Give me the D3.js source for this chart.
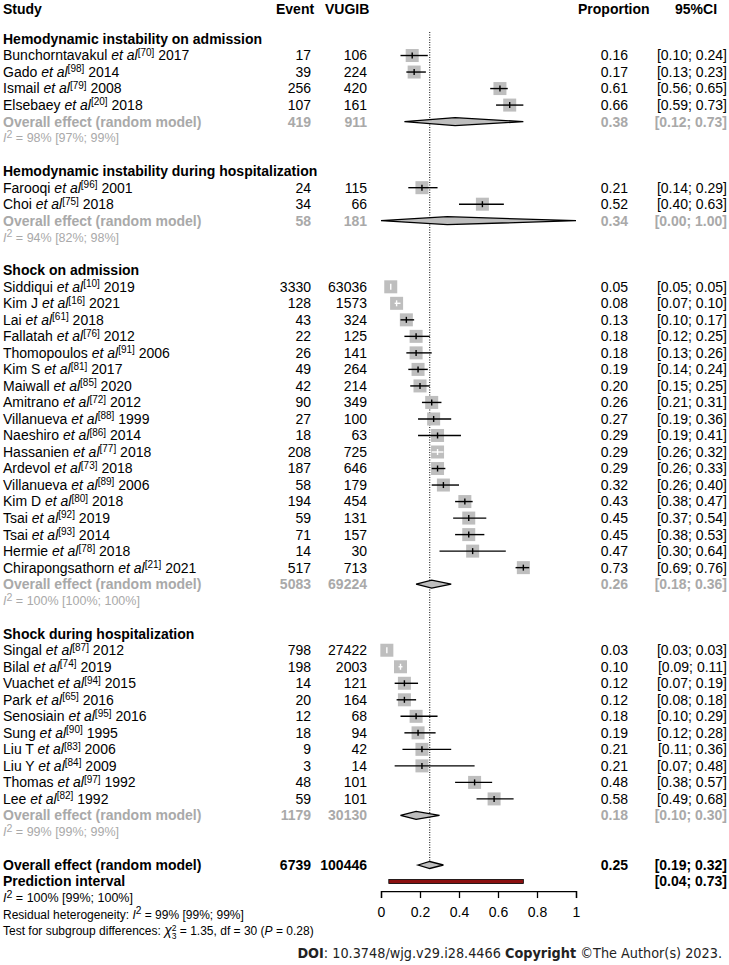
<!DOCTYPE html>
<html><head><meta charset="utf-8">
<script src="https://cdn.jsdelivr.net/npm/d3@7"></script>
<style>
body{margin:0;background:#fff}
svg{display:block}
text{font-family:"Liberation Sans",Arial,Helvetica,sans-serif;fill:#000}
</style>
</head><body>
<svg id="c" width="729" height="965"></svg>
<script>
// ---------------- DATA ----------------
const groupNames = [
  "Hemodynamic instability on admission",
  "Hemodynamic instability during hospitalization",
  "Shock on admission",
  "Shock during hospitalization"
];
const studyGroup = [0,0,0,0, 1,1, 2,2,2,2,2,2,2,2,2,2,2,2,2,2,2,2,2,2, 3,3,3,3,3,3,3,3,3,3];
const studyAuthors = [
  "Bunchorntavakul","Gado","Ismail","Elsebaey",
  "Farooqi","Choi",
  "Siddiqui","Kim J","Lai","Fallatah","Thomopoulos","Kim S","Maiwall","Amitrano","Villanueva","Naeshiro",
  "Hassanien","Ardevol","Villanueva","Kim D","Tsai","Tsai","Hermie","Chirapongsathorn",
  "Singal","Bilal","Vuachet","Park","Senosiain","Sung","Liu T","Liu Y","Thomas","Lee"
];
const studyRefs = [70,98,79,20, 96,75, 10,16,61,76,91,81,85,72,88,86,77,73,89,80,92,93,78,21, 87,74,94,65,95,90,83,84,97,82];
const studyYears = [2017,2014,2008,2018, 2001,2018,
  2019,2021,2018,2012,2006,2017,2020,2012,1999,2014,2018,2018,2006,2018,2019,2014,2018,2021,
  2012,2019,2015,2016,2016,1995,2006,2009,1992,1992];
const studyEvents = [17,39,256,107, 24,34,
  3330,128,43,22,26,49,42,90,27,18,208,187,58,194,59,71,14,517,
  798,198,14,20,12,18,9,3,48,59];
const studyTotals = [106,224,420,161, 115,66,
  63036,1573,324,125,141,264,214,349,100,63,725,646,179,454,131,157,30,713,
  27422,2003,121,164,68,94,42,14,101,101];
const studyProps = [0.16,0.17,0.61,0.66, 0.21,0.52,
  0.05,0.08,0.13,0.18,0.18,0.19,0.20,0.26,0.27,0.29,0.29,0.29,0.32,0.43,0.45,0.45,0.47,0.73,
  0.03,0.10,0.12,0.12,0.18,0.19,0.21,0.21,0.48,0.58];
const studyLower = [0.10,0.13,0.56,0.59, 0.14,0.40,
  0.05,0.07,0.10,0.12,0.13,0.14,0.15,0.21,0.19,0.19,0.26,0.26,0.26,0.38,0.37,0.38,0.30,0.69,
  0.03,0.09,0.07,0.08,0.10,0.12,0.11,0.07,0.38,0.49];
const studyUpper = [0.24,0.23,0.65,0.73, 0.29,0.63,
  0.05,0.10,0.17,0.25,0.26,0.24,0.25,0.31,0.36,0.41,0.32,0.33,0.40,0.47,0.54,0.53,0.64,0.76,
  0.03,0.11,0.19,0.18,0.29,0.28,0.36,0.48,0.57,0.68];
const groupEvents = [419, 58, 5083, 1179];
const groupTotals = [911, 181, 69224, 30130];
const groupProps = [0.38, 0.34, 0.26, 0.18];
const groupLower = [0.12, 0.00, 0.18, 0.10];
const groupUpper = [0.73, 1.00, 0.36, 0.30];
const groupI2 = ["98% [97%; 99%]", "94% [82%; 98%]", "100% [100%; 100%]", "99% [99%; 99%]"];
const overallEvents = 6739, overallTotal = 100446;
const overallProp = 0.25, overallLower = 0.19, overallUpper = 0.32;
const predictLower = 0.04, predictUpper = 0.73;
const overallI2 = "100% [99%; 100%]";
const residualI2 = "99% [99%; 99%]";
const testChi = "1.35", testDf = "30", testP = "0.28";
const axisTicks = [0, 0.2, 0.4, 0.6, 0.8, 1];
const headers = ["Study", "Event", "VUGIB", "Proportion", "95%CI"];

// ---------------- LAYOUT ----------------
const svg = d3.select("#c");
const x = d3.scaleLinear().domain([0, 1]).range([381, 576]);
const y = d3.scaleLinear().domain([0, 1]).range([39, 39 + 16.52]);
const FS = 14;
const GRAY = "#a9a9a9";
const BOX = "#bebebe";
const colEvent = 311, colTotal = 367, colProp = 628, colCI = 727;
const f2 = d3.format(".2f");
const ci = (l, u) => "[" + f2(l) + "; " + f2(u) + "]";

// header
const hy = 9;
[[3, "start"], [276, "start"], [325, "start"], [578, "start"], [675, "start"]].forEach((p, i) => {
  svg.append("text").attr("x", p[0]).attr("y", hy).attr("dy", "0.35em")
    .attr("text-anchor", p[1]).attr("font-size", FS).attr("font-weight", "bold").text(headers[i]);
});

// dotted reference line
const gMarks = svg.append("g");
gMarks.append("line").attr("x1", x(overallProp)).attr("x2", x(overallProp))
  .attr("y1", 32).attr("y2", y(50) - 4)
  .attr("stroke", "#000").attr("stroke-width", 1).attr("stroke-dasharray", "1,1.5");

function txt(xp, r, s, opts = {}) {
  return svg.append("text").attr("x", xp).attr("y", y(r)).attr("dy", "0.35em")
    .attr("text-anchor", opts.anchor || "start")
    .attr("font-size", opts.size || FS)
    .attr("font-weight", opts.bold ? "bold" : null)
    .style("fill", opts.color || "#000")
    .text(s);
}
function i2text(r, val, color, size, prefix) {
  const t = svg.append("text").attr("x", 3).attr("y", y(r)).attr("dy", "0.35em")
    .attr("font-size", size).style("fill", color);
  if (prefix) t.append("tspan").text(prefix);
  t.append("tspan").attr("font-style", "italic").text("I");
  t.append("tspan").attr("font-size", size * 0.85).attr("dy", -4.5).text("2");
  t.append("tspan").attr("dy", 4.5).text(" = " + val);
  return t;
}
function diamond(r, est, lo, hi, h) {
  const yy = y(r);
  gMarks.append("polygon")
    .attr("points", [[x(lo), yy], [x(est), yy - h], [x(hi), yy], [x(est), yy + h]].map(p => p.join(",")).join(" "))
    .attr("fill", BOX).attr("stroke", "#000").attr("stroke-width", 1.3);
}

let row = 0;
groupNames.forEach((gname, g) => {
  txt(3, row, gname, {bold: true});
  row++;
  studyAuthors.forEach((a, i) => {
    if (studyGroup[i] !== g) return;
    const t = svg.append("text").attr("x", 3).attr("y", y(row)).attr("dy", "0.35em").attr("font-size", FS);
    t.append("tspan").text(a + " ");
    t.append("tspan").attr("font-style", "italic").text("et al");
    t.append("tspan").attr("font-size", 10).attr("dy", -4.5).text("[" + studyRefs[i] + "]");
    t.append("tspan").attr("dy", 4.5).text(" " + studyYears[i]);
    txt(colEvent, row, studyEvents[i], {anchor: "end"});
    txt(colTotal, row, studyTotals[i], {anchor: "end"});
    txt(colProp, row, f2(studyProps[i]), {anchor: "end"});
    txt(colCI, row, ci(studyLower[i], studyUpper[i]), {anchor: "end"});
    const yy = y(row), s = 13;
    gMarks.append("rect").attr("x", x(studyProps[i]) - s / 2).attr("y", yy - s / 2)
      .attr("width", s).attr("height", s).attr("fill", BOX);
    const inside = (x(studyUpper[i]) - x(studyLower[i])) < s;
    const lc = inside ? "#fff" : "#000";
    gMarks.append("line").attr("x1", x(studyLower[i])).attr("x2", x(studyUpper[i]))
      .attr("y1", yy).attr("y2", yy).attr("stroke", lc).attr("stroke-width", 1.4);
    gMarks.append("line").attr("x1", x(studyProps[i])).attr("x2", x(studyProps[i]))
      .attr("y1", yy - 3).attr("y2", yy + 3).attr("stroke", lc).attr("stroke-width", 1.4);
    row++;
  });
  txt(3, row, "Overall effect (random model)", {bold: true, color: GRAY});
  txt(colEvent, row, groupEvents[g], {anchor: "end", bold: true, color: GRAY});
  txt(colTotal, row, groupTotals[g], {anchor: "end", bold: true, color: GRAY});
  txt(colProp, row, f2(groupProps[g]), {anchor: "end", bold: true, color: GRAY});
  txt(colCI, row, ci(groupLower[g], groupUpper[g]), {anchor: "end", bold: true, color: GRAY});
  diamond(row, groupProps[g], groupLower[g], groupUpper[g], 4);
  row++;
  i2text(row, groupI2[g], GRAY, 12.5);
  row += 2;
});

// overall
txt(3, row, "Overall effect (random model)", {bold: true});
txt(colEvent, row, overallEvents, {anchor: "end", bold: true});
txt(colTotal, row, overallTotal, {anchor: "end", bold: true});
txt(colProp, row, f2(overallProp), {anchor: "end", bold: true});
txt(colCI, row, ci(overallLower, overallUpper), {anchor: "end", bold: true});
diamond(row, overallProp, overallLower, overallUpper, 3.5);
row++;
txt(3, row, "Prediction interval", {bold: true});
txt(colCI, row, ci(predictLower, predictUpper), {anchor: "end", bold: true});
gMarks.append("rect").attr("x", x(predictLower)).attr("y", y(row) - 2)
  .attr("width", x(predictUpper) - x(predictLower)).attr("height", 4)
  .attr("fill", "#8b1010").attr("stroke", "#000").attr("stroke-width", 0.8);
row++;
i2text(row, overallI2, "#000", 12.5);

// axis
const axisY = y(row) - 7;
const ax = svg.append("g").attr("transform", "translate(0," + axisY + ")")
  .call(d3.axisBottom(x).tickValues(axisTicks).tickSize(7).tickPadding(9)
    .tickFormat(d => (d === 0 || d === 1) ? String(d) : d3.format(".1f")(d)));
ax.select(".domain").attr("stroke-width", 1.3);
ax.selectAll(".tick line").attr("stroke-width", 1.3);
ax.selectAll(".tick text").attr("font-size", 14).attr("font-family", "Liberation Sans, Arial, sans-serif");

row++;
i2text(row, residualI2, "#000", 12, "Residual heterogeneity:  ");
row++;
const tt = svg.append("text").attr("x", 3).attr("y", y(row)).attr("dy", "0.35em").attr("font-size", 12);
tt.append("tspan").text("Test for subgroup differences:  ");
tt.append("tspan").attr("font-style", "italic").attr("font-size", 14).text("χ");
tt.append("tspan").attr("font-size", 8.5).attr("dy", -4).text("2");
tt.append("tspan").attr("font-size", 8.5).attr("dx", -4.8).attr("dy", 8).text("3");
tt.append("tspan").attr("dy", -4).text(" = " + testChi + ", df = " + testDf + " (");
tt.append("tspan").attr("font-style", "italic").text("P");
tt.append("tspan").text(" = " + testP + ")");

// DOI footer
const doi = svg.append("text").attr("x", 722).attr("y", 953).attr("dy", "0.35em")
  .attr("text-anchor", "end").attr("font-size", 14.3)
  .style("font-family", "'DejaVu Sans Condensed','Liberation Sans Narrow','DejaVu Sans',sans-serif")
  .style("font-stretch", "condensed").style("fill", "#222");
doi.append("tspan").attr("font-weight", "bold").text("DOI");
doi.append("tspan").text(": 10.3748/wjg.v29.i28.4466 ");
doi.append("tspan").attr("font-weight", "bold").text("Copyright");
doi.append("tspan").text(" ©The Author(s) 2023.");
</script>
</body></html>
